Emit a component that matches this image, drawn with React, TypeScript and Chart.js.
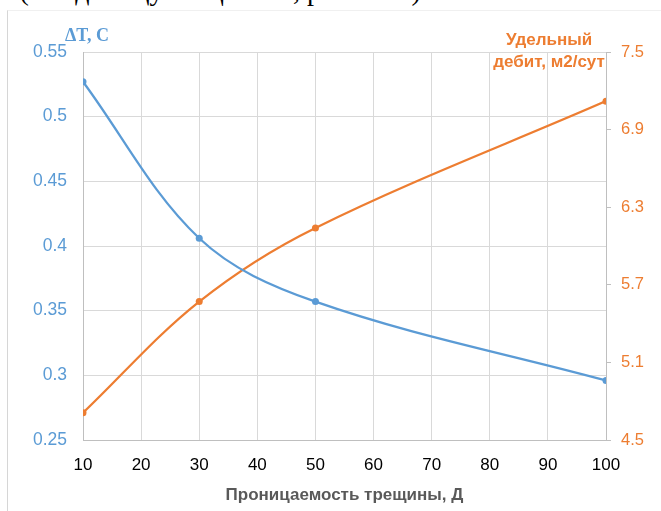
import React, { useEffect, useRef } from "react";
import { Chart, registerables } from "chart.js";

Chart.register(...registerables);

// ---- data ----
const permeability = [10, 30, 50, 100];
const deltaT = [0.527, 0.406, 0.357, 0.296];
const specificRate = [4.71, 5.57, 6.14, 7.12];

const xTicks = [10, 20, 30, 40, 50, 60, 70, 80, 90, 100];
const leftTicks = [0.25, 0.3, 0.35, 0.4, 0.45, 0.5, 0.55];
const rightTicks = [4.5, 5.1, 5.7, 6.3, 6.9, 7.5];

const leftTitle = "ΔT, C";
const rightTitle = ["Удельный", "дебит, м2/сут"];
const xTitle = "Проницаемость трещины, Д";
const topText = "а (на единицу мощности, рис. 3.14).";

const BLUE = "#5B9BD5";
const ORANGE = "#ED7D31";
const GRID = "#d9d9d9";
const AXIS = "#bfbfbf";

const axisTitlesPlugin = {
  id: "axisTitles",
  afterDraw(chart: any) {
    const ctx = chart.ctx;
    ctx.save();
    ctx.textBaseline = "alphabetic";
    ctx.fillStyle = BLUE;
    ctx.font = 'bold 18px "Liberation Serif", serif';
    ctx.textAlign = "left";
    ctx.fillText(leftTitle, 65, 41);
    ctx.fillStyle = ORANGE;
    ctx.font = 'bold 17px "Liberation Sans", sans-serif';
    ctx.textAlign = "center";
    ctx.fillText(rightTitle[0], 549, 45);
    ctx.fillText(rightTitle[1], 549, 67);
    ctx.restore();
  },
};

export default function App() {
  const ref = useRef<HTMLCanvasElement | null>(null);

  useEffect(() => {
    document.body.style.margin = "0";
    if (!ref.current) return;
    const chart = new Chart(ref.current, {
      type: "line",
      data: {
        datasets: [
          {
            label: "ΔT",
            data: permeability.map((x, i) => ({ x, y: deltaT[i] })),
            borderColor: BLUE,
            backgroundColor: BLUE,
            borderWidth: 2.25,
            pointRadius: 3.5,
            pointBorderWidth: 0,
            tension: 0.35,
            yAxisID: "y",
          },
          {
            label: "q",
            data: permeability.map((x, i) => ({ x, y: specificRate[i] })),
            borderColor: ORANGE,
            backgroundColor: ORANGE,
            borderWidth: 2.25,
            pointRadius: 3.5,
            pointBorderWidth: 0,
            tension: 0.35,
            yAxisID: "y1",
          },
        ],
      },
      options: {
        responsive: false,
        animation: false,
        layout: { padding: { top: 52, left: 0, right: 0, bottom: 0 } },
        plugins: {
          legend: { display: false },
          tooltip: { enabled: false },
        },
        scales: {
          x: {
            type: "linear",
            min: 10,
            max: 100,
            afterBuildTicks: (s: any) => {
              s.ticks = xTicks.map((v) => ({ value: v }));
            },
            afterFit: (s: any) => {
              s.height = 71;
            },
            grid: { color: GRID, drawTicks: false },
            border: { color: AXIS },
            ticks: {
              color: "#000",
              padding: 15,
              font: { family: '"Liberation Sans", sans-serif', size: 17 },
              maxRotation: 0,
              callback: (v: any) => String(v),
            },
            title: {
              display: true,
              text: xTitle,
              color: "#595959",
              font: { family: '"Liberation Sans", sans-serif', size: 17, weight: "bold" },
              padding: { top: 0, bottom: 5 },
            },
          },
          y: {
            type: "linear",
            position: "left",
            min: 0.25,
            max: 0.55,
            afterBuildTicks: (s: any) => {
              s.ticks = leftTicks.map((v) => ({ value: v }));
            },
            afterFit: (s: any) => {
              s.width = 83;
            },
            grid: { color: GRID, drawTicks: false },
            border: { color: AXIS },
            ticks: {
              color: BLUE,
              padding: 16,
              font: { family: '"Liberation Sans", sans-serif', size: 17.5 },
              callback: (v: any) => String(Number(Number(v).toFixed(2))),
            },
          },
          y1: {
            type: "linear",
            position: "right",
            min: 4.5,
            max: 7.5,
            afterBuildTicks: (s: any) => {
              s.ticks = rightTicks.map((v) => ({ value: v }));
            },
            afterFit: (s: any) => {
              s.width = 55;
            },
            grid: { drawOnChartArea: false, drawTicks: true, tickLength: 5, color: AXIS },
            border: { color: AXIS },
            ticks: {
              color: ORANGE,
              padding: 10,
              font: { family: '"Liberation Sans", sans-serif', size: 16.5 },
              callback: (v: any) => Number(v).toFixed(1),
            },
          },
        },
      } as any,
      plugins: [axisTitlesPlugin],
    });
    return () => chart.destroy();
  }, []);

  return (
    <div style={{ position: "relative", width: 661, height: 511, overflow: "hidden", background: "#fff" }}>
      <div
        style={{
          position: "absolute",
          left: 0,
          top: -23,
          whiteSpace: "nowrap",
          font: '28px/28px "Liberation Serif", serif',
          color: "#000",
        }}
      >
        {topText}
      </div>
      <div
        style={{
          position: "absolute",
          left: 7,
          top: 10,
          width: 700,
          height: 600,
          borderLeft: "1px solid #d6d6d6",
          borderTop: "1px solid #f0f0f0",
          background: "#fff",
        }}
      />
      <canvas
        ref={ref}
        width={661}
        height={511}
        style={{ position: "absolute", left: 0, top: 0, display: "block" }}
      />
    </div>
  );
}
